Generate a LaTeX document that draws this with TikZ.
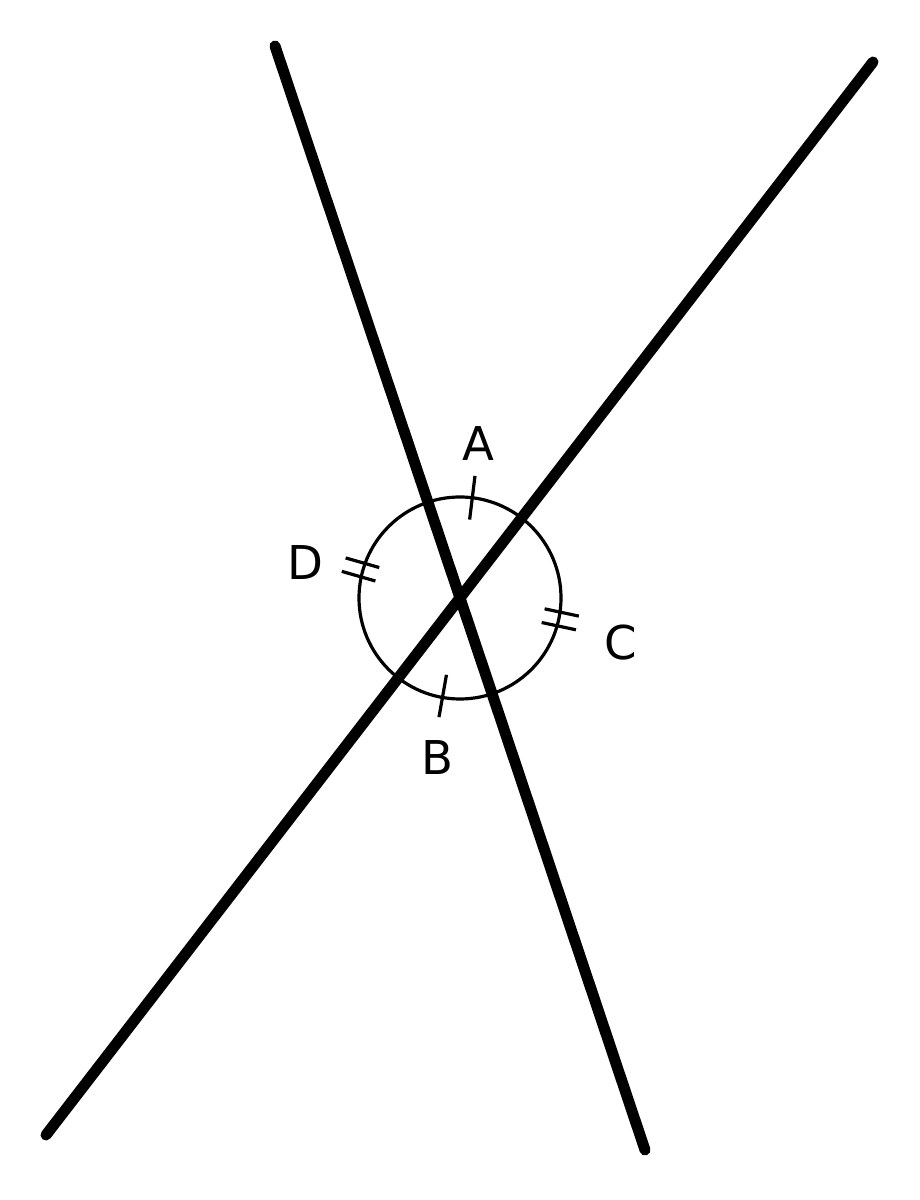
\documentclass[tikz,border=0pt]{standalone}
\usepackage{fontspec}
\setmainfont{DejaVu Sans}
\begin{document}
\begin{tikzpicture}[x=0.5pt,y=0.5pt,
  heavy/.style={line width=5.5pt,line cap=round},
  ring/.style={line width=1.6pt},
  tickmark/.style={line width=1.6pt},
  lbl/.style={font=\fontsize{23.3}{28}\selectfont, inner sep=0pt}]
\useasboundingbox (0,0) rectangle (920,1200);
\coordinate (O) at (460,602);
\coordinate (P1) at (275,1154);
\coordinate (P2) at (645,50);
\coordinate (Q1) at (873,1138);
\coordinate (Q2) at (46,65);
\draw[heavy] (P1) -- (P2);
\draw[heavy] (Q1) -- (Q2);
\draw[ring] (O) circle[radius=101];
% single ticks
\begin{scope}[shift={(O)},rotate=83]
  \draw[tickmark] (79,0) -- (123,0);
\end{scope}
\begin{scope}[shift={(O)},rotate=260]
  \draw[tickmark] (78,0) -- (121,0);
\end{scope}
% double ticks
\begin{scope}[shift={(O)},rotate=-12]
  \draw[tickmark] (85,7) -- (120,7);
  \draw[tickmark] (85,-7) -- (120,-7);
\end{scope}
\begin{scope}[shift={(O)},rotate=164]
  \draw[tickmark] (86,7) -- (121,7);
  \draw[tickmark] (86,-7) -- (121,-7);
\end{scope}
\node[lbl] (A) at (478,756) {A};
\node[lbl] (B) at (437,442) {B};
\node[lbl] (C) at (621,557) {C};
\node[lbl] (D) at (305,637) {D};
\end{tikzpicture}
\end{document}
